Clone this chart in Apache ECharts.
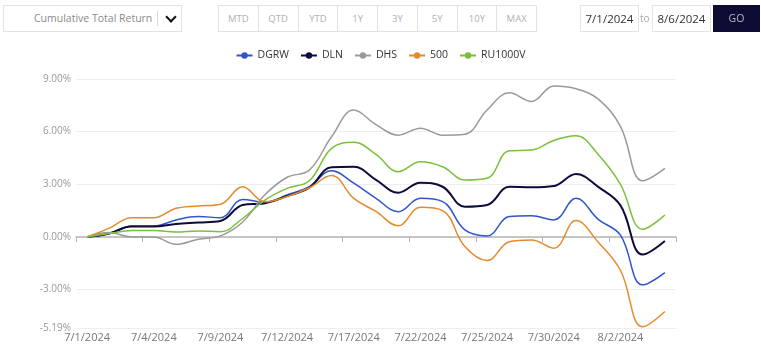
<!DOCTYPE html>
<html>
<head>
<meta charset="utf-8">
<script src="https://cdn.jsdelivr.net/npm/echarts@6/dist/echarts.min.js"></script>
<style>
  html, body { margin: 0; padding: 0; background: #fff; font-family: "Open Sans", "Noto Sans", sans-serif; }
  #wrap { position: relative; width: 761px; height: 347px; overflow: hidden; }
  #chart { position: absolute; left: 0; top: 0; width: 761px; height: 347px; }
  .box { position: absolute; top: 5px; height: 27px; box-sizing: border-box; border: 1px solid #e3e3e3; background: #fff; }
  .sel { left: 3px; width: 179px; font-size: 10.5px; color: #8a8a8a; line-height: 25px; }
  .sel span { position: absolute; left: 30px; }
  .sel .sep { position: absolute; left: 153px; top: 5px; width: 1px; height: 15px; background: #d8d8d8; }
  .sel .chev { position: absolute; left: 163px; top: 7px; width: 6px; height: 6px; border-right: 2px solid #111; border-bottom: 2px solid #111; transform: rotate(45deg); }
  .btns { left: 218px; width: 319px; display: flex; }
  .btns div { flex: 1; border-right: 1px solid #e3e3e3; text-align: center; font-size: 9.5px; color: #b0b0b0; line-height: 25px; }
  .btns div:last-child { border-right: none; }
  .date { width: 59px; font-size: 11.5px; color: #333; text-align: center; line-height: 25px; }
  .to { position: absolute; left: 640px; top: 5px; line-height: 27px; font-size: 10px; color: #aaa; }
  .go { position: absolute; left: 713px; top: 5px; width: 47px; height: 27px; background: #0e0c35; color: #b8b8c8; font-size: 10.5px; text-align: center; line-height: 27px; }
</style>
</head>
<body>
<div id="wrap">
  <div id="chart"></div>
  <div class="box sel"><span>Cumulative Total Return</span><div class="sep"></div><div class="chev"></div></div>
  <div class="box btns"><div>MTD</div><div>QTD</div><div>YTD</div><div>1Y</div><div>3Y</div><div>5Y</div><div>10Y</div><div>MAX</div></div>
  <div class="box date" style="left:580px">7/1/2024</div>
  <div class="to">to</div>
  <div class="box date" style="left:652px">8/6/2024</div>
  <div class="go">GO</div>
</div>
<script>
const dates = ['7/1/2024', '7/2/2024', '7/3/2024', '7/4/2024', '7/5/2024', '7/8/2024', '7/9/2024', '7/10/2024',
  '7/11/2024', '7/12/2024', '7/15/2024', '7/16/2024', '7/17/2024', '7/18/2024', '7/19/2024', '7/22/2024',
  '7/23/2024', '7/24/2024', '7/25/2024', '7/26/2024', '7/29/2024', '7/30/2024', '7/31/2024', '8/1/2024',
  '8/2/2024', '8/5/2024', '8/6/2024'];

const dgrw = [0, 0.2, 0.62, 0.62, 0.97, 1.16, 1.1, 2.14, 1.97, 2.39, 2.86, 3.77, 3.06, 2.2, 1.44, 2.2, 2.01, 0.4, 0.06, 1.16, 1.2, 0.97, 2.2, 1.0, 0.1, -2.73, -2.03];
const dln = [0, 0.2, 0.59, 0.59, 0.74, 0.82, 0.91, 1.82, 1.92, 2.33, 2.81, 3.97, 4.0, 3.25, 2.52, 3.09, 2.86, 1.72, 1.82, 2.86, 2.83, 2.9, 3.59, 2.85, 1.8, -1.0, -0.23];
const dhs = [0, 0.25, 0, 0, -0.42, -0.13, 0.06, 0.85, 2.4, 3.4, 3.81, 5.71, 7.23, 6.4, 5.8, 6.2, 5.8, 5.85, 7.23, 8.21, 7.72, 8.6, 8.44, 7.85, 6.3, 3.2, 3.91];
const sp500 = [0, 0.5, 1.1, 1.1, 1.63, 1.76, 1.86, 2.86, 2.0, 2.3, 2.8, 3.5, 2.2, 1.45, 0.63, 1.69, 1.5, -0.55, -1.35, -0.27, -0.17, -0.64, 0.93, -0.3, -1.9, -5.12, -4.25];
const ru1000v = [0, 0.2, 0.36, 0.36, 0.28, 0.34, 0.3, 1.05, 2.1, 2.77, 3.2, 5.05, 5.39, 4.7, 3.72, 4.29, 4.0, 3.24, 3.34, 4.91, 4.95, 5.5, 5.76, 4.7, 3.0, 0.44, 1.25];

const yTicks = [-5.19, -3, 0, 3, 6, 9];

const names = ['DGRW', 'DLN', 'DHS', '500', 'RU1000V'];
const colors = ['#2f55c8', '#0d0a3d', '#9a9a9a', '#e58a2c', '#7cbf3a'];
const values = [dgrw, dln, dhs, sp500, ru1000v];

const chart = echarts.init(document.getElementById('chart'));
chart.setOption({
  animation: false,
  textStyle: { fontFamily: 'Open Sans' },
  legend: {
    top: 45,
    left: 'center',
    itemWidth: 16,
    itemHeight: 8,
    itemGap: 11,
    textStyle: { color: '#333', fontSize: 10.5 },
    data: names
  },
  grid: { left: 76, right: 85, top: 79, bottom: 19 },
  xAxis: [
    {
      type: 'category',
      data: dates,
      axisLine: { onZero: true, lineStyle: { color: '#b5b5b5', width: 1.5 } },
      axisTick: { show: true, interval: 2, lineStyle: { color: '#b5b5b5' } },
      axisLabel: { show: false }
    },
    {
      type: 'category',
      data: dates,
      position: 'bottom',
      axisLine: { onZero: false, lineStyle: { color: '#eeeeee' } },
      axisTick: { show: false },
      axisLabel: { interval: 2, color: '#777', fontSize: 11, margin: 4 }
    }
  ],
  yAxis: {
    type: 'value',
    min: -5.19,
    max: 9,
    axisLine: { show: false },
    axisTick: { show: false, customValues: yTicks },
    axisLabel: {
      customValues: yTicks,
      color: '#999',
      fontSize: 10,
      margin: 5,
      formatter: v => v.toFixed(2) + '%'
    },
    splitLine: { lineStyle: { color: '#eeeeee' } }
  },
  series: names.map((n, i) => ({
    name: n,
    type: 'line',
    data: values[i],
    xAxisIndex: 0,
    smooth: 0.4,
    symbol: 'circle',
    symbolSize: 7,
    showSymbol: false,
    itemStyle: { color: colors[i] },
    lineStyle: { color: colors[i], width: i === 1 ? 2 : 1.5 }
  }))
});
</script>
</body>
</html>
